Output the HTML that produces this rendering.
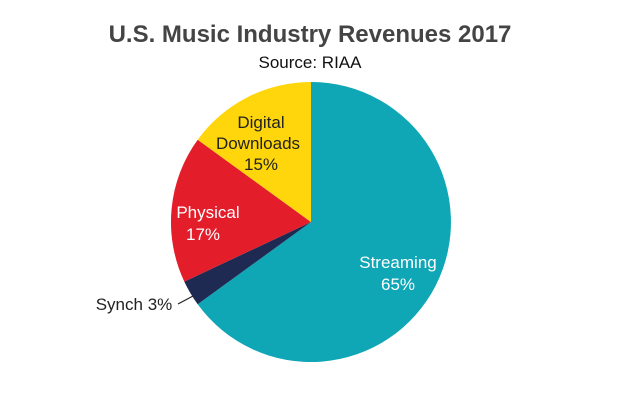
<!DOCTYPE html>
<html><head><style>body{margin:0;background:#fff}</style></head><body>
<svg width="620" height="400" xmlns="http://www.w3.org/2000/svg" font-family="Liberation Sans, sans-serif">
<rect width="620" height="400" fill="#fff"/>
<text x="310" y="42" text-anchor="middle" font-size="24" font-weight="bold" fill="#444">U.S. Music Industry Revenues 2017</text>
<text x="310" y="68" text-anchor="middle" font-size="17" fill="#111">Source: RIAA</text>
<path d="M311,222 L311,82 A140,140 0 1,1 197.7,304.3 Z" fill="#0fa6b6"/>
<path d="M311,222 L197.7,304.3 A140,140 0 0,1 184.3,281.6 Z" fill="#1e2a52"/>
<path d="M311,222 L184.3,281.6 A140,140 0 0,1 197.7,139.7 Z" fill="#e31d2a"/>
<path d="M311,222 L197.7,139.7 A140,140 0 0,1 311,82 Z" fill="#fed60b"/>
<line x1="178" y1="304" x2="193" y2="296" stroke="#222" stroke-width="1.2"/>
<g font-size="17" text-anchor="middle">
<text x="398" y="268" fill="#fff">Streaming</text>
<text x="398" y="290" fill="#fff">65%</text>
<text x="208" y="218" fill="#fff">Physical</text>
<text x="203" y="240" fill="#fff">17%</text>
<text x="261" y="128" fill="#222">Digital</text>
<text x="258" y="149" fill="#222">Downloads</text>
<text x="261" y="170" fill="#222">15%</text>
<text x="134" y="310" fill="#222">Synch 3%</text>
</g>
</svg>
</body></html>
